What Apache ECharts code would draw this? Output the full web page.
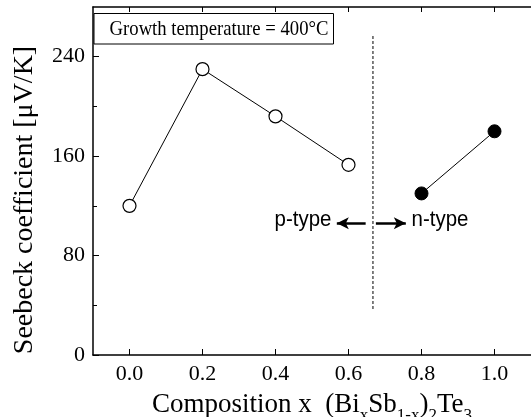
<!DOCTYPE html>
<html>
<head>
<meta charset="utf-8">
<script src="https://cdn.jsdelivr.net/npm/echarts@6/dist/echarts.min.js"></script>
<style>
  html, body { margin: 0; padding: 0; background: #fff; }
  #chart { width: 531px; height: 417px; }
</style>
</head>
<body>
<div id="chart"></div>
<script>
const chart = echarts.init(document.getElementById('chart'));

// composition x and Seebeck coefficient (uV/K)
const pTypeX = [0.0, 0.2, 0.4, 0.6];
const pTypeS = [120, 230, 192, 153];
const nTypeX = [0.8, 1.0];
const nTypeS = [130, 180];
const xTickValues = [0.0, 0.2, 0.4, 0.6, 0.8, 1.0];
const yTickValues = [0, 80, 160, 240];
const yMinorTicks = [40, 120, 200];
// p/n boundary (dashed) and the two arrows
const boundaryX = 0.667;
const boundaryY = [37, 258];
const arrowY = 106;
const pArrow = [0.647, 0.568];
const nArrow = [0.675, 0.757];

const serif = 'Liberation Serif, Times New Roman, serif';
const sans = 'Liberation Sans, Arial, sans-serif';
const black = '#000';

const zip = (xs, ys) => xs.map((x, i) => [x, ys[i]]);

chart.setOption({
  animation: false,
  backgroundColor: '#fff',
  grid: { left: 93, right: 0, top: 7, bottom: 62, containLabel: false, outerBoundsMode: 'none' },
  xAxis: [
    {
      type: 'value',
      min: -0.1,
      max: 1.1,
      name: '{a|Composition x  (Bi}{s|x}{a|Sb}{s|1-x}{a|)}{s|2}{a|Te}{s|3}',
      nameLocation: 'middle',
      nameGap: 31,
      nameTextStyle: {
        rich: {
          a: { fontFamily: serif, fontSize: 27, color: black, lineHeight: 38, verticalAlign: 'middle' },
          s: { fontFamily: serif, fontSize: 17, color: black, lineHeight: 17, verticalAlign: 'bottom' }
        }
      },
      axisLine: { onZero: false, lineStyle: { color: black, width: 1.5 } },
      axisTick: { inside: true, length: 6, customValues: xTickValues, lineStyle: { color: black, width: 1 } },
      axisLabel: {
        customValues: xTickValues,
        margin: 8,
        fontFamily: serif,
        fontSize: 22,
        color: black,
        formatter: (v) => v.toFixed(1)
      },
      splitLine: { show: false }
    },
    {
      type: 'value',
      position: 'top',
      min: -0.1,
      max: 1.1,
      axisLine: { onZero: false, lineStyle: { color: black, width: 1.5 } },
      axisTick: { inside: true, length: 5, customValues: xTickValues, lineStyle: { color: black, width: 1 } },
      axisLabel: { show: false },
      splitLine: { show: false }
    }
  ],
  yAxis: [
    {
      type: 'value',
      min: 0,
      max: 280,
      axisLine: { show: true, onZero: false, lineStyle: { color: black, width: 1.5 } },
      axisTick: { show: true, inside: true, length: 6, customValues: yTickValues, lineStyle: { color: black, width: 1 } },
      axisLabel: {
        customValues: yTickValues,
        margin: 8,
        fontFamily: serif,
        fontSize: 22,
        color: black
      },
      splitLine: { show: false }
    },
    {
      type: 'value',
      position: 'left',
      min: 0,
      max: 280,
      axisLine: { show: false, onZero: false },
      axisTick: { show: true, inside: true, length: 4, customValues: yMinorTicks, lineStyle: { color: black, width: 1 } },
      axisLabel: { show: false },
      splitLine: { show: false }
    }
  ],
  graphic: [
    {
      type: 'text',
      x: 25,
      y: 200,
      rotation: Math.PI / 2,
      style: {
        text: 'Seebeck coefficient [\u03bcV/K]',
        fontFamily: serif,
        fontSize: 28,
        fill: black,
        align: 'center',
        verticalAlign: 'middle'
      }
    },
    {
      type: 'rect',
      shape: { x: 94, y: 13.5, width: 239.5, height: 30.5 },
      style: { fill: '#fff', stroke: black, lineWidth: 1 },
      z: 10
    },
    {
      type: 'text',
      x: 219,
      y: 29,
      scaleX: 0.89,
      style: {
        text: 'Growth temperature = 400\u00b0C',
        fontFamily: serif,
        fontSize: 21,
        fill: black,
        align: 'center',
        verticalAlign: 'middle'
      },
      z: 11
    },
    {
      type: 'text',
      x: 303,
      y: 220,
      scaleX: 0.93,
      style: { text: 'p-type', fontFamily: sans, fontSize: 22, fill: black, align: 'center', verticalAlign: 'middle' }
    },
    {
      type: 'text',
      x: 440,
      y: 220,
      scaleX: 0.93,
      style: { text: 'n-type', fontFamily: sans, fontSize: 22, fill: black, align: 'center', verticalAlign: 'middle' }
    }
  ],
  series: [
    {
      type: 'line',
      data: zip(pTypeX, pTypeS),
      symbol: 'circle',
      symbolSize: 13,
      lineStyle: { color: black, width: 1 },
      itemStyle: { color: '#fff', borderColor: black, borderWidth: 1.2 },
      z: 3
    },
    {
      type: 'line',
      data: zip(nTypeX, nTypeS),
      symbol: 'circle',
      symbolSize: 13,
      lineStyle: { color: black, width: 1 },
      itemStyle: { color: black, borderColor: black, borderWidth: 1 },
      z: 3
    },
    {
      type: 'line',
      data: boundaryY.map((y) => [boundaryX, y]),
      symbol: 'none',
      lineStyle: { color: black, width: 1, type: [3, 2] },
      z: 2,
      markLine: {
        silent: true,
        symbol: ['none', 'arrow'],
        symbolSize: [9, 12],
        label: { show: false },
        lineStyle: { color: black, width: 2.5, type: 'solid' },
        data: [
          [{ coord: [pArrow[0], arrowY] }, { coord: [pArrow[1], arrowY] }],
          [{ coord: [nArrow[0], arrowY] }, { coord: [nArrow[1], arrowY] }]
        ]
      }
    }
  ]
});
</script>
</body>
</html>
